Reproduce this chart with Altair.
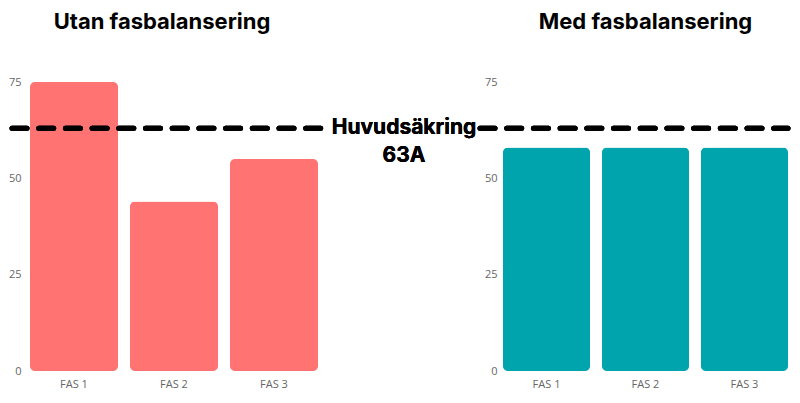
import altair as alt
import pandas as pd

faser = ["FAS 1", "FAS 2", "FAS 3"]
utan_ampere = [75, 44, 55]
med_ampere = [58, 58, 58]
huvudsakring = 63
sakring_text = ["Huvudsäkring", "63A"]

RED = "#FF7373"
TEAL = "#00A4AC"

utan_df = pd.DataFrame({"fas": faser, "a": utan_ampere})
med_df = pd.DataFrame({"fas": faser, "a": med_ampere})

y_axis = alt.Y("a:Q", title=None, scale=alt.Scale(domain=[0, 75], nice=False),
               axis=alt.Axis(values=[0, 25, 50, 75], domain=False, ticks=False, grid=False,
                             labelPadding=3, labelFont="Open Sans", labelFontSize=11,
                             labelColor="#666"))


def x_axis(outer):
    return alt.X("fas:N", title=None, sort=faser,
                 scale=alt.Scale(paddingInner=0.12, paddingOuter=outer),
                 axis=alt.Axis(labelAngle=0, domain=False, ticks=False, labelPadding=7,
                               labelFont="Open Sans", labelFontSize=11, labelColor="#666"))


def panel(df, color, title, title_dx, width, outer, rule_x, rule_x2, with_text=False):
    bars = alt.Chart().mark_bar(cornerRadius=5, color=color).encode(x=x_axis(outer), y=y_axis)
    rule = alt.Chart().mark_rule(color="black", strokeWidth=5, strokeDash=[15, 11.7],
                                 strokeCap="round").encode(
        y=alt.datum(huvudsakring), x=alt.value(rule_x), x2=alt.value(rule_x2))
    layers = [bars, rule]
    if with_text:
        txt = alt.Chart().mark_text(text=sakring_text, font="Inter", fontWeight="bold",
                                    fontSize=21, lineHeight=28, baseline="top",
                                    align="center", dy=-11, color="black").encode(
            y=alt.datum(huvudsakring), x=alt.value(380))
        layers.append(txt)
    return alt.layer(*layers, data=df).properties(
        width=width, height=289,
        title=alt.TitleParams(title, font="Inter", fontWeight="bold", fontSize=22,
                              color="black", offset=42, frame="group", dx=title_dx))


left = panel(utan_df, RED, "Utan fasbalansering", -12, 300, 0.06, -12, 302, with_text=True)
right = panel(med_df, TEAL, "Med fasbalansering", 0, 291, 0.03, -20, 288)

chart = alt.hconcat(left, right, spacing=176, bounds="flush").properties(
    padding={"top": 3, "left": 0, "right": 0, "bottom": 0}
).configure_view(stroke=None)

chart.save("out.html", embed_options={"renderer": "svg", "actions": False})
